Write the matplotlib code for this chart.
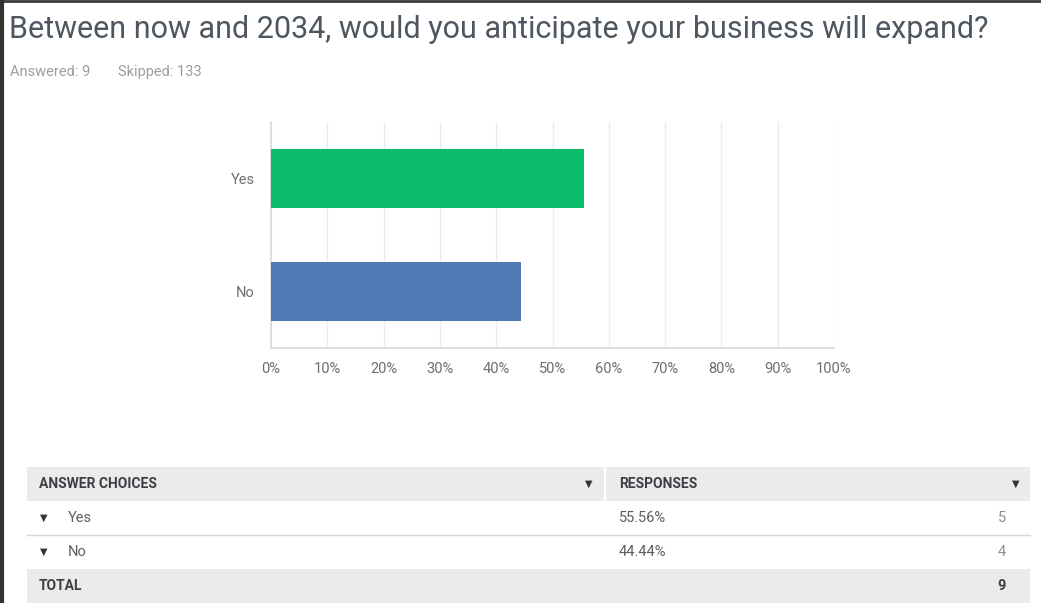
import matplotlib.pyplot as plt
from matplotlib.patches import Rectangle
from matplotlib.ticker import FuncFormatter, MultipleLocator

W, H = 1041, 603

TITLE = 'Between now and 2034, would you anticipate your business will expand?'
ANSWERED = 9
SKIPPED = 133
CHOICES = ['Yes', 'No']
PERCENTS = [55.56, 44.44]
COUNTS = [5, 4]
COLORS = ['#0abb6c', '#5079b4']

plt.rcParams['font.family'] = ['Roboto', 'DejaVu Sans']

fig = plt.figure(figsize=(W / 100, H / 100), dpi=100)
fig.patch.set_facecolor('white')

# full-figure axes in pixel coordinates for text, table and frame
bg = fig.add_axes([0, 0, 1, 1])
bg.set_xlim(0, W)
bg.set_ylim(H, 0)
bg.axis('off')

bg.plot([0, W], [1, 1], color='#3a3a3a', linewidth=2)
bg.plot([1.5, 1.5], [0, H], color='#333333', linewidth=3)

bg.text(9, 29, TITLE, fontsize=22, color='#4e565f', va='center', ha='left')
bg.text(10, 72, f'Answered: {ANSWERED}', fontsize=10.5, color='#9a9ea3', va='center')
bg.text(118, 72, f'Skipped: {SKIPPED}', fontsize=10.5, color='#9a9ea3', va='center')

# bar chart
ax = fig.add_axes([271 / W, 1 - 348 / H, (834 - 271) / W, (348 - 122) / H])
ypos = list(range(len(CHOICES)))[::-1]
ax.barh(ypos, PERCENTS, height=0.52, color=COLORS, zorder=3)
ax.set_xlim(0, 100)
ax.set_ylim(-0.5, 1.5)
ax.set_yticks(ypos)
ax.set_yticklabels(CHOICES)
ax.xaxis.set_major_locator(MultipleLocator(10))
ax.xaxis.set_major_formatter(FuncFormatter(lambda v, p: f'{v:.0f}%'))
ax.tick_params(axis='both', length=0, labelsize=10.5, colors='#6b6f73')
ax.tick_params(axis='x', pad=10)
ax.tick_params(axis='y', pad=12)
ax.grid(axis='x', color='#ebebeb', linewidth=1, zorder=0)
for s in ['top', 'right']:
    ax.spines[s].set_visible(False)
for s in ['left', 'bottom']:
    ax.spines[s].set_color('#d9d9d9')
    ax.spines[s].set_linewidth(1.2)

# table
tx0, tx1, split = 27, 1030, 605
row_h = 34
y0 = 467
hdr_bg = '#ebebeb'
txt = '#3b3f44'

bg.add_patch(Rectangle((tx0, y0), split - tx0 - 1, row_h, color=hdr_bg, lw=0))
bg.add_patch(Rectangle((split + 1, y0), tx1 - split - 1, row_h, color=hdr_bg, lw=0))
bg.text(39, y0 + row_h / 2, 'ANSWER CHOICES', fontsize=10, fontweight='bold',
        color=txt, va='center')
bg.text(619, y0 + row_h / 2, 'RESPONSES', fontsize=10, fontweight='bold',
        color=txt, va='center')
bg.text(589, y0 + row_h / 2, '▼', fontsize=7, color='#333333', va='center', ha='center',
        family='DejaVu Sans')
bg.text(1016, y0 + row_h / 2, '▼', fontsize=7, color='#333333', va='center', ha='center',
        family='DejaVu Sans')

for i, (c, p, n) in enumerate(zip(CHOICES, PERCENTS, COUNTS)):
    yc = y0 + row_h * (i + 1) + row_h / 2
    bg.text(44, yc, '▼', fontsize=7, color='#333333', va='center', ha='center',
            family='DejaVu Sans')
    bg.text(68, yc, c, fontsize=10.5, color='#5a5e63', va='center')
    bg.text(619, yc, f'{p:.2f}%', fontsize=10.5, color='#5a5e63', va='center')
    bg.text(1006, yc, str(n), fontsize=10.5, color='#8a8e93', va='center', ha='right')
    if i < len(CHOICES) - 1:
        yl = y0 + row_h * (i + 2)
        bg.plot([tx0, tx1], [yl, yl], color='#d6d6d6', linewidth=1)

yt = y0 + row_h * (len(CHOICES) + 1)
bg.add_patch(Rectangle((tx0, yt), tx1 - tx0, row_h, color=hdr_bg, lw=0))
bg.text(39, yt + row_h / 2, 'TOTAL', fontsize=10, fontweight='bold', color=txt, va='center')
bg.text(1006, yt + row_h / 2, str(sum(COUNTS)), fontsize=10.5, fontweight='bold',
        color=txt, va='center', ha='right')

fig.savefig('out.png', dpi=100, facecolor='white')
